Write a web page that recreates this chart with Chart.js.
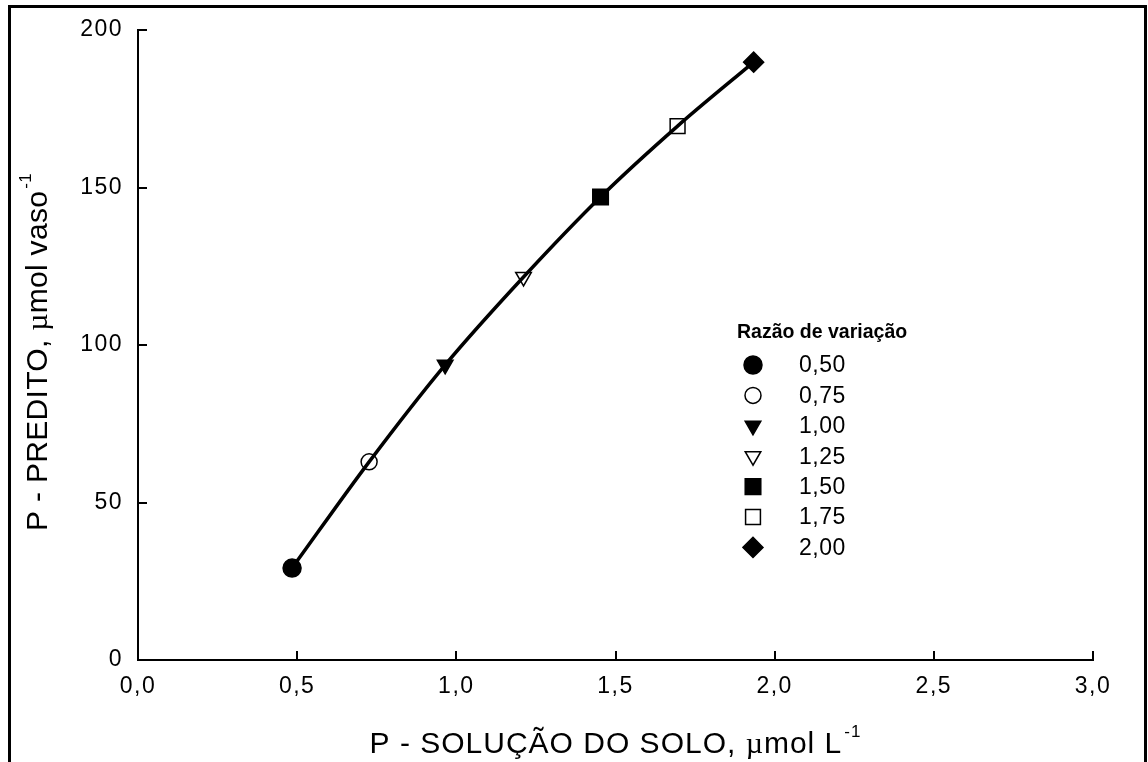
<!DOCTYPE html>
<html>
<head>
<meta charset="utf-8">
<script src="https://cdn.jsdelivr.net/npm/chart.js@4.4.1/dist/chart.umd.min.js"></script>
<style>
  html, body { margin: 0; padding: 0; background: #fff; overflow: hidden; }
  #wrap { position: relative; width: 1148px; height: 762px; }
  #frame { position: absolute; left: 8px; top: 5px; width: 1139px; height: 800px;
           border: 3px solid #000; box-sizing: border-box; pointer-events: none; }
  canvas { position: absolute; left: 0; top: 0; }
</style>
</head>
<body>
<div id="wrap">
  <canvas id="chart" width="1148" height="762"></canvas>
  <div id="frame"></div>
</div>
<script>
// Razão de variação (legend entries)
const ratioLabels = ['0,50', '0,75', '1,00', '1,25', '1,50', '1,75', '2,00'];
// P na solução do solo (µmol L-1)
const solutionP = [0.484, 0.726, 0.965, 1.211, 1.453, 1.695, 1.934];
// P predito (µmol vaso-1)
const predictedP = [29.2, 62.9, 93.7, 121.6, 147.0, 169.5, 189.8];

const FONT = "'Liberation Sans', Arial, Helvetica, sans-serif";
const SERIF = "'Liberation Serif', 'Times New Roman', serif";

// marker look for each ratio
const markerLook = [
  { pointStyle: 'circle',   radius: 9,    filled: true,  rotation: 0 },
  { pointStyle: 'circle',   radius: 8,    filled: false, rotation: 0 },
  { pointStyle: 'triangle', radius: 9,    filled: true,  rotation: 180 },
  { pointStyle: 'triangle', radius: 9,    filled: false, rotation: 180 },
  { pointStyle: 'rect',     radius: 11,   filled: true,  rotation: 0 },
  { pointStyle: 'rect',     radius: 10.5, filled: false, rotation: 0 },
  { pointStyle: 'rectRot',  radius: 10,   filled: true,  rotation: 0 }
];

const curvePoints = solutionP.map((x, i) => ({ x: x, y: predictedP[i] }));

const datasets = [{
  label: 'curva',
  data: curvePoints,
  showLine: true,
  borderColor: '#000',
  borderWidth: 3.5,
  pointRadius: 0,
  pointHoverRadius: 0,
  cubicInterpolationMode: 'monotone',
  order: 1
}];

ratioLabels.forEach((lab, i) => {
  const m = markerLook[i];
  datasets.push({
    label: lab,
    data: [{ x: solutionP[i], y: predictedP[i] }],
    pointStyle: m.pointStyle,
    pointRadius: m.radius,
    pointHoverRadius: m.radius,
    pointRotation: m.rotation,
    pointBackgroundColor: m.filled ? '#000' : 'rgba(255,255,255,0)',
    pointBorderColor: '#000',
    pointBorderWidth: 1.5,
    showLine: false,
    order: 0,
    legendFill: m.filled ? '#000' : '#fff'
  });
});

function drawMarker(ctx, style, x, y) {
  if (Chart.helpers && Chart.helpers.drawPoint) {
    Chart.helpers.drawPoint(ctx, style, x, y);
    return;
  }
  const r = style.radius;
  ctx.beginPath();
  if (style.pointStyle === 'circle') {
    ctx.arc(x, y, r, 0, Math.PI * 2);
  } else if (style.pointStyle === 'triangle') {
    const s = style.rotation === 180 ? -1 : 1;
    ctx.moveTo(x, y - s * r);
    ctx.lineTo(x + r * Math.sin(2 * Math.PI / 3), y + s * r / 2);
    ctx.lineTo(x - r * Math.sin(2 * Math.PI / 3), y + s * r / 2);
    ctx.closePath();
  } else if (style.pointStyle === 'rect') {
    const h = r * Math.SQRT1_2;
    ctx.rect(x - h, y - h, 2 * h, 2 * h);
  } else {
    ctx.moveTo(x, y - r); ctx.lineTo(x + r, y); ctx.lineTo(x, y + r); ctx.lineTo(x - r, y);
    ctx.closePath();
  }
  ctx.fill();
  ctx.stroke();
}

// text runs drawn piece by piece (main text, µ, superscript)
function runWidth(ctx, parts) {
  let w = 0;
  parts.forEach(p => { ctx.font = p.font; w += ctx.measureText(p.text).width + (p.gap || 0); });
  return w;
}
function drawRun(ctx, parts, x, y) {
  parts.forEach(p => {
    ctx.font = p.font;
    x += (p.gap || 0);
    ctx.fillText(p.text, x, y + (p.dy || 0));
    x += ctx.measureText(p.text).width;
  });
}

const xTitle = [
  { text: 'P - SOLUÇÃO DO SOLO, ', font: `30px ${FONT}` },
  { text: 'µ', font: `30px ${SERIF}` },
  { text: 'mol L', font: `30px ${FONT}` },
  { text: '-1', font: `17px ${FONT}`, dy: -16, gap: 2 }
];
const yTitle = [
  { text: 'P - PREDITO, ', font: `30px ${FONT}` },
  { text: 'µ', font: `30px ${SERIF}` },
  { text: 'mol vaso', font: `30px ${FONT}` },
  { text: '-1', font: `17px ${FONT}`, dy: -16, gap: 2 }
];

const spacing = {
  id: 'spacing',
  beforeDraw(chart) {
    if ('letterSpacing' in chart.ctx) chart.ctx.letterSpacing = '1.5px';
  }
};

const annotations = {
  id: 'annotations',
  afterDraw(chart) {
    const ctx = chart.ctx;
    const area = chart.chartArea;
    const hasLS = 'letterSpacing' in ctx;
    ctx.save();
    ctx.fillStyle = '#000';
    ctx.textAlign = 'left';
    ctx.textBaseline = 'alphabetic';

    // axis titles
    if (hasLS) ctx.letterSpacing = '1px';
    const wx = runWidth(ctx, xTitle);
    drawRun(ctx, xTitle, (area.left + area.right) / 2 - wx / 2, 753);

    if (hasLS) ctx.letterSpacing = '0.3px';
    const wy = runWidth(ctx, yTitle);
    ctx.save();
    ctx.translate(47, 352);
    ctx.rotate(-Math.PI / 2);
    drawRun(ctx, yTitle, -wy / 2, 0);
    ctx.restore();

    // legend
    if (hasLS) ctx.letterSpacing = '0px';
    ctx.textBaseline = 'middle';
    ctx.font = `bold 19.5px ${FONT}`;
    ctx.fillText('Razão de variação', 737, 333);
    if (hasLS) ctx.letterSpacing = '0.5px';
    ctx.font = `23px ${FONT}`;
    for (let i = 1; i < chart.data.datasets.length; i++) {
      const ds = chart.data.datasets[i];
      const y = 365 + (i - 1) * 30.4;
      ctx.save();
      ctx.fillStyle = ds.legendFill;
      ctx.strokeStyle = '#000';
      ctx.lineWidth = ds.pointBorderWidth;
      drawMarker(ctx, {
        pointStyle: ds.pointStyle,
        radius: ds.pointRadius,
        rotation: ds.pointRotation,
        borderWidth: ds.pointBorderWidth
      }, 753, y);
      ctx.restore();
      ctx.fillText(ds.label, 799, y + 1);
    }
    ctx.restore();
  }
};

new Chart(document.getElementById('chart'), {
  type: 'scatter',
  data: { datasets: datasets },
  plugins: [spacing, annotations],
  options: {
    responsive: false,
    devicePixelRatio: 1,
    animation: false,
    events: [],
    layout: { padding: { left: 0, top: 30, right: 55, bottom: 0 } },
    plugins: { legend: { display: false }, tooltip: { enabled: false } },
    scales: {
      x: {
        type: 'linear',
        min: 0, max: 3,
        afterFit: s => { s.height = 102; },
        border: { display: true, color: '#000', width: 2 },
        grid: { drawOnChartArea: false, drawTicks: true, tickLength: -9, color: '#000', lineWidth: 2 },
        ticks: {
          stepSize: 0.5, autoSkip: false, maxRotation: 0, padding: 22,
          color: '#000', font: { family: FONT, size: 23 },
          callback: v => v.toFixed(1).replace('.', ',')
        },
        title: { display: false }
      },
      y: {
        type: 'linear',
        min: 0, max: 200,
        afterFit: s => { s.width = 138; s.paddingTop = 0; s.paddingBottom = 0; },
        border: { display: true, color: '#000', width: 2 },
        grid: { drawOnChartArea: false, drawTicks: true, tickLength: -9, color: '#000', lineWidth: 2 },
        ticks: {
          stepSize: 50, padding: 24,
          color: '#000', font: { family: FONT, size: 23 },
          callback: v => String(v)
        },
        title: { display: false }
      }
    }
  }
});
</script>
</body>
</html>
